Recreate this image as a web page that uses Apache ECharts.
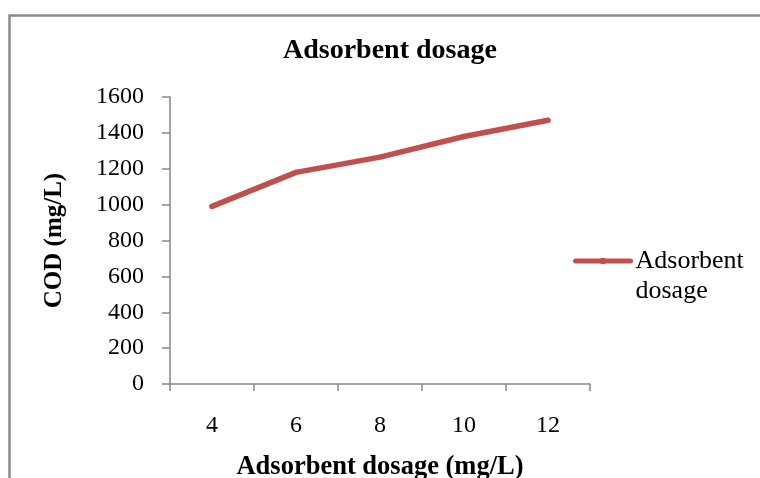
<!DOCTYPE html>
<html>
<head>
<meta charset="utf-8">
<script src="https://cdn.jsdelivr.net/npm/echarts@6/dist/echarts.min.js"></script>
<style>html,body{margin:0;padding:0;background:#fff;}#c{width:760px;height:478px;}</style>
</head>
<body>
<div id="c"></div>
<script>
const categories = ['4', '6', '8', '10', '12'];
const codValues = [990, 1180, 1265, 1380, 1470];
const seriesName = 'Adsorbent dosage';
const yTicks = { min: 0, max: 1600, interval: 200 };

const FONT = 'Liberation Serif, Times New Roman, serif';
const RED = '#C0504D';
const chart = echarts.init(document.getElementById('c'), null, { renderer: 'canvas' });
chart.setOption({
  backgroundColor: '#fff',
  animation: false,
  graphic: [{
    type: 'rect', left: 7, top: 13, shape: { width: 820, height: 520 },
    style: { fill: 'none', stroke: '#8c8c8c', lineWidth: 2.5 }, silent: true, z: -1
  }],
  title: {
    text: 'Adsorbent dosage', left: 278, top: 32,
    textStyle: { fontFamily: FONT, fontWeight: 'bold', fontSize: 28, color: '#000' }
  },
  grid: { left: 170, right: 170, top: 97, bottom: 94, containLabel: false, outerBoundsMode: 'none' },
  legend: {
    left: 573, top: 216, padding: 0,
    itemWidth: 55, itemHeight: 8, itemGap: 5,
    formatter: () => '\nAdsorbent\ndosage',
    lineStyle: { color: RED, width: 5 },
    itemStyle: { color: RED },
    textStyle: { fontFamily: FONT, fontSize: 26, color: '#000', lineHeight: 30 },
    data: [seriesName]
  },
  xAxis: {
    type: 'category', data: categories, boundaryGap: true,
    name: 'Adsorbent dosage (mg/L)', nameLocation: 'middle', nameGap: 70,
    nameTextStyle: { fontFamily: FONT, fontWeight: 'bold', fontSize: 26.5, color: '#000' },
    axisLine: { lineStyle: { color: '#868686', width: 1.5 } },
    axisTick: { show: true, length: 7, inside: false, lineStyle: { color: '#868686', width: 1.5 } },
    axisLabel: { margin: 30, fontFamily: FONT, fontSize: 24, color: '#000' },
    splitLine: { show: false }
  },
  yAxis: {
    type: 'value', min: yTicks.min, max: yTicks.max, interval: yTicks.interval,
    name: 'COD (mg/L)', nameLocation: 'middle', nameGap: 103, nameRotate: 90,
    nameTextStyle: { fontFamily: FONT, fontWeight: 'bold', fontSize: 25, color: '#000' },
    axisLine: { show: true, lineStyle: { color: '#868686', width: 1.5 } },
    axisTick: { show: true, length: 8, inside: false, lineStyle: { color: '#868686', width: 1.5 } },
    axisLabel: { margin: 26, fontFamily: FONT, fontSize: 24, color: '#000', formatter: (v) => String(v) },
    splitLine: { show: false }
  },
  series: [{
    name: seriesName, type: 'line', data: codValues,
    symbol: 'circle', symbolSize: 5, showSymbol: true,
    lineStyle: { color: RED, width: 5.5, cap: 'round', join: 'round' },
    itemStyle: { color: RED }
  }]
});
</script>
</body>
</html>
